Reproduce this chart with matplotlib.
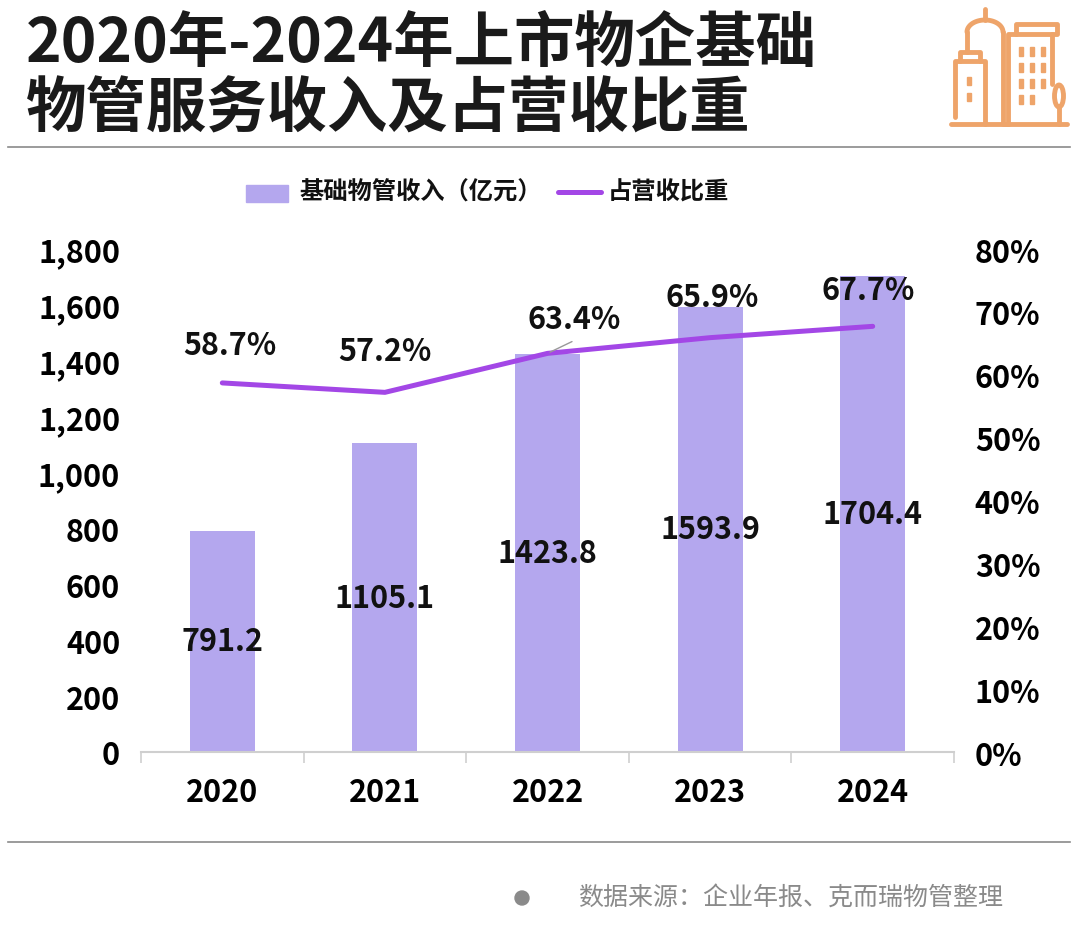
import numpy as np
import matplotlib.pyplot as plt
from matplotlib.ticker import FuncFormatter, FixedLocator
from matplotlib.patches import Rectangle, Ellipse
from matplotlib.lines import Line2D

plt.rcParams['font.family'] = ['Noto Sans CJK SC', 'DejaVu Sans']

years = ['2020', '2021', '2022', '2023', '2024']
revenue = [791.2, 1105.1, 1423.8, 1593.9, 1704.4]      # 基础物管收入（亿元）
share = [58.7, 57.2, 63.4, 65.9, 67.7]                  # 占营收比重 %

title_lines = ['2020年-2024年上市物企基础', '物管服务收入及占营收比重']
legend_bar = '基础物管收入（亿元）'
legend_line = '占营收比重'
source_text = '数据来源：企业年报、克而瑞物管整理'

BAR_C = '#b4a7ee'
LINE_C = '#a347e6'
ICON_C = '#eea46a'
NUM_FS = 22
NUM_W = 'semibold'

W, H = 1080, 953
fig = plt.figure(figsize=(W / 100, H / 100), dpi=100)
fig.patch.set_facecolor('white')

def fx(px):
    return px / W

def fy(py):
    return 1 - py / H

# title
fig.text(fx(26), fy(44), title_lines[0], fontsize=43.5, fontweight='bold', va='center', ha='left', color='#1a1a1a')
fig.text(fx(26), fy(110), title_lines[1], fontsize=43.5, fontweight='bold', va='center', ha='left', color='#1a1a1a')

# rules
fig.add_artist(Line2D([fx(8), fx(1070)], [fy(148), fy(148)], color='#8a8a8a', lw=1.2))
fig.add_artist(Line2D([fx(8), fx(1070)], [fy(843), fy(843)], color='#8a8a8a', lw=1.2))

# main axes
ax = fig.add_axes([fx(141), fy(753), fx(954) - fx(141), fy(250) - fy(753)])
x = np.arange(len(years))
bars = ax.bar(x, revenue, width=0.4, color=BAR_C, zorder=2)
ax.set_xlim(-0.5, len(years) - 0.5)
ax.set_ylim(0, 1800)
ax.set_yticks(np.arange(0, 1801, 200))
ax.yaxis.set_major_formatter(FuncFormatter(lambda v, p: f'{int(v):,}'))
ax.set_xticks(x)
ax.set_xticklabels(years, fontweight=NUM_W)
ax.xaxis.set_minor_locator(FixedLocator(np.arange(-0.5, len(years), 1.0)))
ax.tick_params(axis='x', which='major', length=0, pad=17, labelsize=NUM_FS)
ax.tick_params(axis='x', which='minor', length=8, color='#cfcfcf', width=1.2)
ax.tick_params(axis='y', length=0, pad=15, labelsize=NUM_FS)
for lab in ax.get_yticklabels():
    lab.set_fontweight(NUM_W)
for s in ['top', 'right', 'left']:
    ax.spines[s].set_visible(False)
ax.spines['bottom'].set_color('#cfcfcf')
ax.spines['bottom'].set_linewidth(1.5)
ax.patch.set_alpha(0)

for b, v in zip(bars, revenue):
    ax.text(b.get_x() + b.get_width() / 2, v / 2, f'{v:.1f}', ha='center', va='center',
            fontsize=NUM_FS, fontweight=NUM_W, color='#111111', zorder=4)

ax2 = ax.twinx()
ax2.set_ylim(0, 80)
ax2.set_yticks(np.arange(0, 81, 10))
ax2.yaxis.set_major_formatter(FuncFormatter(lambda v, p: f'{int(v)}%'))
ax2.tick_params(axis='y', length=0, pad=15, labelsize=NUM_FS)
for lab in ax2.get_yticklabels():
    lab.set_fontweight(NUM_W)
for s in ax2.spines.values():
    s.set_visible(False)
ax2.plot(x, share, color=LINE_C, lw=3.6, solid_capstyle='round', zorder=3)

offsets = [(8, 38), (0, 41), (27, 34), (2, 41), (-5, 36)]
for xi, v, (dx, dy) in zip(x, share, offsets):
    ax2.annotate(f'{v:.1f}%', (xi, v), xytext=(dx, dy), textcoords='offset pixels',
                 ha='center', va='center', fontsize=NUM_FS, fontweight=NUM_W, color='#111111', zorder=5)
# leader line for 2022 label
ax2.annotate('', (x[2], share[2]), xytext=(27, 13), textcoords='offset pixels',
             arrowprops=dict(arrowstyle='-', color='#999999', lw=1))

# legend
fig.add_artist(Rectangle((fx(246), fy(203)), fx(42), fy(186) - fy(203), color=BAR_C, transform=fig.transFigure))
fig.text(fx(299), fy(193), legend_bar, fontsize=17.5, fontweight='bold', va='center', ha='left', color='#111111')
fig.add_artist(Line2D([fx(558), fx(601)], [fy(193), fy(193)], color=LINE_C, lw=3.6, solid_capstyle='round'))
fig.text(fx(608), fy(193), legend_line, fontsize=17.5, fontweight='bold', va='center', ha='left', color='#111111')

# source
fig.add_artist(Ellipse((fx(522), fy(899)), fx(14), fx(14) * W / H, color='#8a8a8a', transform=fig.transFigure))
fig.text(fx(578), fy(898), source_text, fontsize=18, va='center', ha='left', color='#8a8a8a')

# building icon
ic = fig.add_axes([fx(900), fy(160), fx(180), fy(0) - fy(160)])
ic.set_xlim(900, 1080)
ic.set_ylim(160, 0)
ic.axis('off')
kw = dict(color=ICON_C, lw=3.5, solid_capstyle='round', solid_joinstyle='round')
ic.plot([951, 1067], [125, 125], **kw)
# left building
ic.plot([955, 955, 960, 960, 980, 980, 985, 985], [118, 62, 62, 53, 53, 62, 62, 125], **kw)
ic.plot([960, 980], [62, 62], **kw)
for yy in (78, 94):
    ic.add_patch(Rectangle((967, yy), 4, 8, color=ICON_C))
# dome building
t = np.linspace(np.pi, 0, 40)
ic.plot([967, 967], [53, 33], **kw)
ic.plot(985 + 18 * np.cos(t), 33 - 12 * np.sin(t), **kw)
ic.plot([1003, 1003, 1008], [33, 125, 125], **kw)
ic.plot([985, 985], [21, 10], **kw)
# right building
ic.plot([1008, 1008, 1016, 1016, 1057, 1057, 1052, 1052], [125, 35, 35, 25, 25, 35, 35, 85], **kw)
ic.plot([1016, 1052], [35, 35], **kw)
for cx in (1021, 1032, 1043):
    for ry in (52, 68, 84, 100):
        if cx == 1043 and ry == 100:
            continue
        ic.add_patch(Rectangle((cx - 2, ry - 4), 4, 9, color=ICON_C))
# tree
ic.add_patch(Ellipse((1059, 97), 9, 22, fill=False, ec=ICON_C, lw=3.5))
ic.plot([1059, 1059], [108, 125], **kw)

fig.savefig('out.png', dpi=100)
